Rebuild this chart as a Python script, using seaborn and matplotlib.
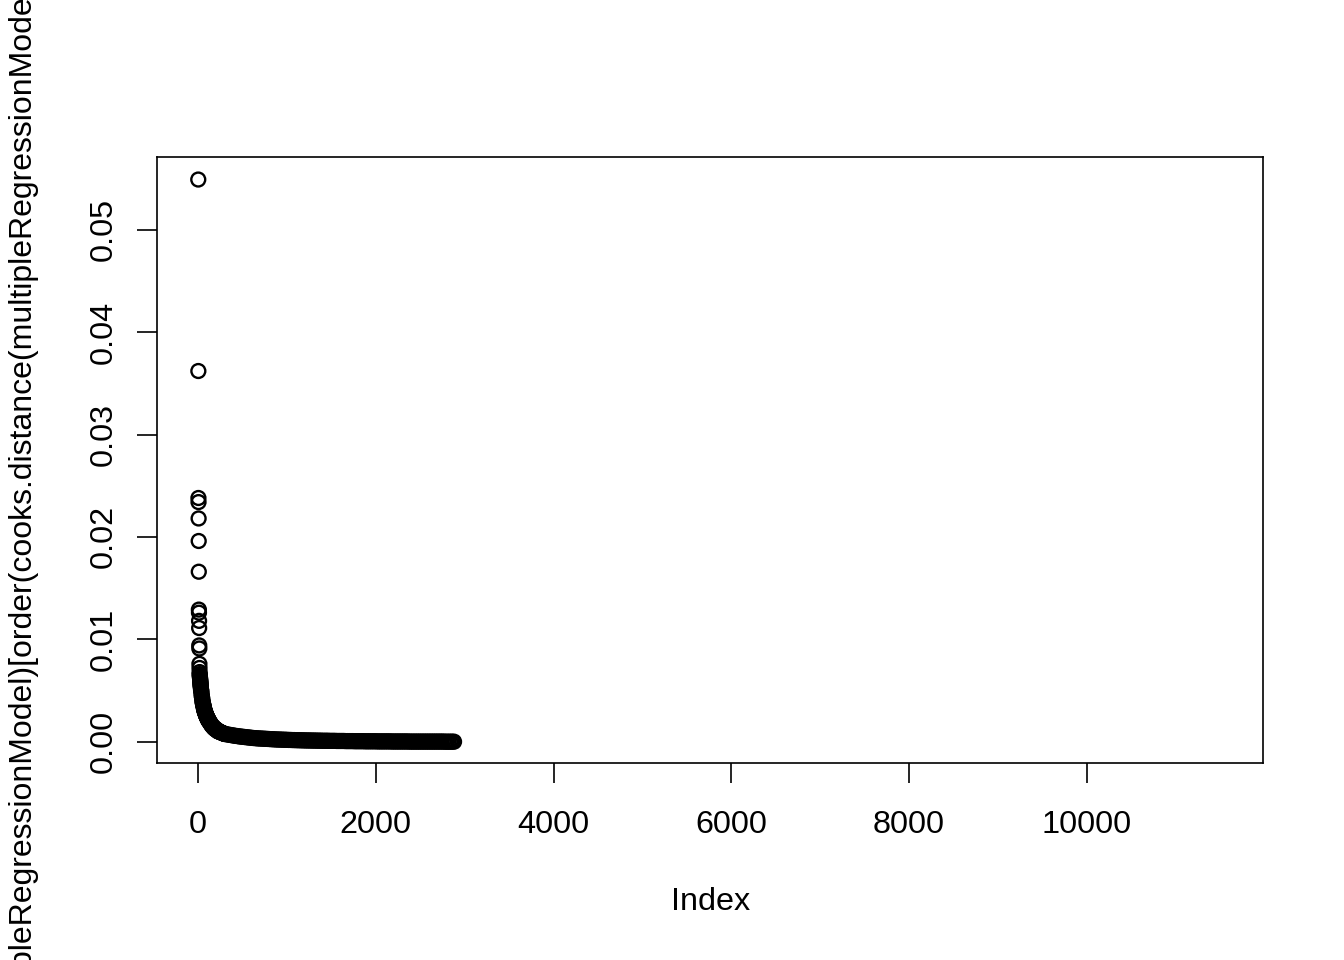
import matplotlib
matplotlib.use("Agg")
import matplotlib.pyplot as plt
import numpy as np
import pandas as pd
import seaborn as sns

# ---- data: sorted Cook's distances (decreasing) ----
top_ranks = list(range(1, 31))
top_vals = [0.0549, 0.0362, 0.0238, 0.0234, 0.0218, 0.0196, 0.0166, 0.0129,
            0.0126, 0.0118, 0.0111, 0.0094, 0.0091, 0.0076, 0.0072, 0.0068,
            0.0066, 0.0065, 0.0064, 0.0063, 0.0062, 0.0061, 0.0060, 0.0059,
            0.0058, 0.0057, 0.0056, 0.0055, 0.0054, 0.0053]

bend_ranks = list(range(32, 121, 2))
bend_vals = [0.0051, 0.0050, 0.0049, 0.0047, 0.0045, 0.0044, 0.0043, 0.0042,
             0.0040, 0.0039, 0.0038, 0.0037, 0.0036, 0.0036, 0.0035, 0.0034,
             0.0033, 0.0032, 0.0032, 0.0031, 0.0030, 0.0030, 0.0029, 0.0029,
             0.0028, 0.0028, 0.0027, 0.0027, 0.0026, 0.0026, 0.0025, 0.0025,
             0.0025, 0.0024, 0.0024, 0.0023, 0.0023, 0.0023, 0.0022, 0.0022,
             0.0022, 0.0021, 0.0021, 0.0021, 0.0020]

knee_ranks = list(range(125, 301, 5))
knee_vals = [0.0020, 0.0019, 0.0018, 0.0018, 0.0017, 0.0016, 0.0016, 0.0015,
             0.0015, 0.0014, 0.0014, 0.0013, 0.0013, 0.0013, 0.0012, 0.0012,
             0.0012, 0.0011, 0.0011, 0.0011, 0.0010, 0.0010, 0.0010, 0.00098,
             0.00096, 0.00094, 0.00092, 0.00090, 0.00088, 0.00086, 0.00084,
             0.00082, 0.00080, 0.00078, 0.00077, 0.00075]

tail_ranks = list(range(320, 2881, 20))
tail_vals = [0.00072, 0.00069, 0.00066, 0.00063, 0.00060, 0.00057, 0.00055,
             0.00052, 0.00050, 0.00048, 0.00046, 0.00044, 0.00042, 0.00040,
             0.00038, 0.00036, 0.00035, 0.00033, 0.00032, 0.00031, 0.00030,
             0.00029, 0.00028, 0.00027, 0.00026, 0.00025, 0.00024, 0.00023,
             0.00022, 0.00021, 0.00021, 0.00020, 0.00019, 0.00019, 0.00018,
             0.00017, 0.00017, 0.00016, 0.00016, 0.00015, 0.00015, 0.00014,
             0.00014, 0.00013, 0.00013, 0.00012, 0.00012, 0.00012, 0.00011,
             0.00011,
             0.00011, 0.00010, 0.00010, 0.00010, 0.00009, 0.00009, 0.00009,
             0.00009, 0.00008, 0.00008,
             0.00008, 0.00008, 0.00007, 0.00007, 0.00007, 0.00007, 0.00007,
             0.00006, 0.00006, 0.00006,
             0.00006, 0.00006, 0.00005, 0.00005, 0.00005, 0.00005, 0.00005,
             0.00005, 0.00004, 0.00004,
             0.00004, 0.00004, 0.00004, 0.00004, 0.00004, 0.00003, 0.00003,
             0.00003, 0.00003, 0.00003,
             0.00003, 0.00003, 0.00003, 0.00002, 0.00002, 0.00002, 0.00002,
             0.00002, 0.00002, 0.00002,
             0.00002, 0.00002, 0.00002, 0.00001, 0.00001, 0.00001, 0.00001,
             0.00001, 0.00001, 0.00001,
             0.00001, 0.00001, 0.00001, 0.00001, 0.00001, 0.00001, 0.00001,
             0.00001, 0.00001, 0.00001,
             0.00001, 0.00001, 0.00001, 0.00000, 0.00000, 0.00000, 0.00000,
             0.00000, 0.00000]

x_ticks = [0, 2000, 4000, 6000, 8000, 10000]
y_ticks = [0.00, 0.01, 0.02, 0.03, 0.04, 0.05]
y_ticklabels = ["0.00", "0.01", "0.02", "0.03", "0.04", "0.05"]
x_label = "Index"
y_label = ("cooks.distance(multipleRegressionModel)[order(cooks.distance("
           "multipleRegressionModel), decreasing = TRUE)]")

ranks = top_ranks + bend_ranks + knee_ranks + tail_ranks
vals = top_vals + bend_vals + knee_vals + tail_vals
df = pd.DataFrame({"Index": ranks, "cooks": vals})

# ---- style ----
sns.set_theme(style="white")
plt.rcParams["font.family"] = ["Liberation Sans", "DejaVu Sans"]
FS = 23.3

fig = plt.figure(figsize=(13.44, 9.6), dpi=100)
ax = fig.add_axes([157.3 / 1344, 1 - 763.3 / 960,
                   (1263.3 - 157.3) / 1344, (763.3 - 156.7) / 960])

sns.scatterplot(data=df, x="Index", y="cooks", ax=ax, marker="o", s=100,
                color="black", facecolor="none", edgecolor="black",
                linewidth=1.7, legend=False)

ax.set_xlim(-460, 11989)
ax.set_ylim(-0.00211, 0.05713)
ax.set_xticks(x_ticks)
ax.set_xticklabels([str(t) for t in x_ticks])
ax.set_yticks(y_ticks)
ax.set_yticklabels(y_ticklabels)

for sp in ax.spines.values():
    sp.set_visible(True)
    sp.set_color("black")
    sp.set_linewidth(1.2)

ax.tick_params(axis="both", which="major", direction="out", length=14.4,
               width=1.2, color="black", labelsize=FS, labelcolor="black",
               bottom=True, left=True)
ax.tick_params(axis="x", pad=19)
ax.tick_params(axis="y", pad=13, labelrotation=90)
for lbl in ax.get_yticklabels():
    lbl.set_va("center")

ax.set_xlabel(x_label, fontsize=FS, color="black")
ax.set_ylabel(y_label, fontsize=23.0, color="black")
ax.xaxis.label.set_va("center")
ax.xaxis.set_label_coords((710.3 - 157.3) / 1106, (763.3 - 902) / 606.6)
ax.yaxis.label.set_va("center")
ax.yaxis.set_label_coords((24 - 157.3) / 1106, 0.5)
ax.grid(False)

fig.savefig("out.png", dpi=100, facecolor="white")
